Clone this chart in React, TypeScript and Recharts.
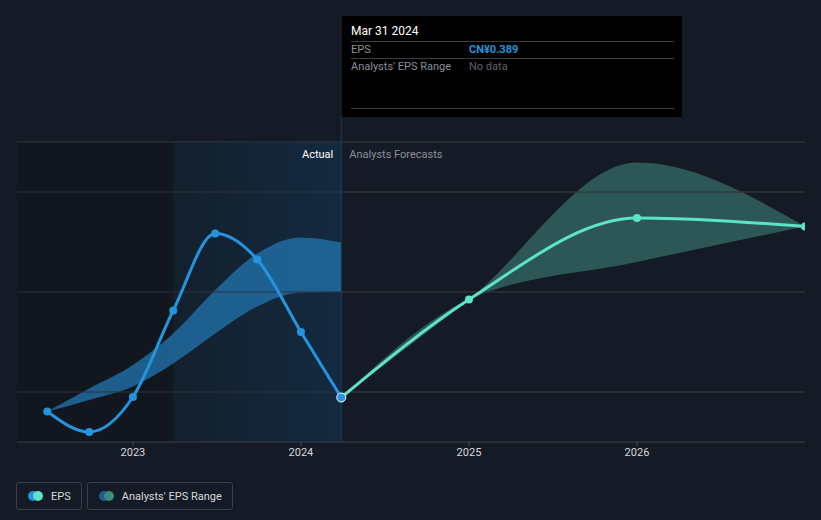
import {
  Area,
  CartesianGrid,
  ComposedChart,
  Line,
  ReferenceArea,
  ReferenceLine,
  XAxis,
  YAxis,
} from "recharts";

// actual quarterly EPS (decimal year)
const actualDates = [2022.49, 2022.74, 2023.0, 2023.24, 2023.49, 2023.74, 2024.0, 2024.24];
const actualEps = [0.361, 0.32, 0.39, 0.563, 0.717, 0.665, 0.52, 0.389];
const pastRangeLow = [0.361, 0.384, 0.411, 0.457, 0.517, 0.571, 0.599, 0.6];
const pastRangeHigh = [0.361, 0.407, 0.454, 0.517, 0.604, 0.677, 0.709, 0.699];

// analyst forecasts
const forecastDates = [2024.24, 2025.0, 2026.0, 2027.0];
const forecastEps = [0.389, 0.585, 0.748, 0.731];
const forecastLow = [0.389, 0.585, 0.66, 0.731];
const forecastHigh = [0.389, 0.585, 0.859, 0.731];

const yearTicks = [2023, 2024, 2025, 2026];
const yTicks = [0.3, 0.4, 0.6, 0.8, 0.9];
const yLabelTicks = [0.3, 0.9];
const splitDate = 2024.24;
const shadeStart = 2023.24;
const xDomain = [2022.31, 2027.0];

const COLORS = {
  bg: "#151b26",
  grid: "#2c323d",
  past: "#2394df",
  future: "#5de4c7",
  pastBand: "#2070a8",
  futureBand: "#2d5656",
  text: "#d6d9de",
  muted: "#8a8f98",
};

type Row = {
  t: number;
  eps?: number;
  pastRange?: [number, number];
  fc?: number;
  fcRange?: [number, number];
};

const rows: Row[] = [];
actualDates.forEach((t, i) => {
  rows.push({ t, eps: actualEps[i], pastRange: [pastRangeLow[i], pastRangeHigh[i]] });
});
forecastDates.forEach((t, i) => {
  const existing = rows.find((r) => r.t === t);
  const extra = { fc: forecastEps[i], fcRange: [forecastLow[i], forecastHigh[i]] as [number, number] };
  if (existing) Object.assign(existing, extra);
  else rows.push({ t, ...extra });
});

const FONT = "Roboto, 'Noto Sans', sans-serif";

function YTick(props: any) {
  const { x, y, payload } = props;
  if (!yLabelTicks.includes(payload.value)) return null;
  return (
    <text x={x + 8} y={y - 8} fill={COLORS.text} fontSize={11} fontFamily={FONT}>
      {`CN¥${payload.value}`}
    </text>
  );
}

function SplitLabel(props: any) {
  const vb = props.viewBox || {};
  const x = vb.x ?? 0;
  const y = vb.y ?? 0;
  return (
    <g>
      <line x1={x} x2={x} y1={y} y2={y - 26} stroke="#1d3b57" strokeWidth={1} />
      <text x={x - 8} y={y + 16} textAnchor="end" fill="#ffffff" fontSize={11} fontFamily={FONT}>
        Actual
      </text>
      <text x={x + 8} y={y + 16} fill={COLORS.muted} fontSize={11} fontFamily={FONT}>
        Analysts Forecasts
      </text>
    </g>
  );
}

function EpsDot(props: any) {
  const { cx, cy, payload } = props;
  if (cx == null || cy == null) return null;
  const last = payload.t === splitDate;
  return (
    <circle
      key={`d-${payload.t}`}
      cx={cx}
      cy={cy}
      r={last ? 4.5 : 4}
      fill={COLORS.past}
      stroke={last ? "#ffffff" : "none"}
      strokeWidth={last ? 1 : 0}
    />
  );
}

function LegendItem({ a, b, label }: { a: string; b: string; label: string }) {
  return (
    <div
      style={{
        display: "flex",
        alignItems: "center",
        height: 26,
        padding: "0 10px 0 11px",
        border: "1px solid #3a404b",
        borderRadius: 3,
        color: COLORS.text,
        fontSize: 11,
        marginRight: 5,
      }}
    >
      <span style={{ position: "relative", width: 15, height: 10, marginRight: 8 }}>
        <span style={{ position: "absolute", left: 0, width: 10, height: 10, borderRadius: 5, background: a }} />
        <span style={{ position: "absolute", left: 5, width: 10, height: 10, borderRadius: 5, background: b }} />
      </span>
      {label}
    </div>
  );
}

export default function App() {
  return (
    <div
      style={{
        position: "absolute",
        left: 0,
        top: 0,
        width: 821,
        height: 520,
        background: COLORS.bg,
        fontFamily: FONT,
        overflow: "hidden",
      }}
    >
      <ComposedChart
        width={821}
        height={480}
        data={rows}
        margin={{ top: 142, right: 16, bottom: 8, left: 17 }}
      >
        <defs>
          <linearGradient id="pastShade" x1="0" y1="0" x2="1" y2="0">
            <stop offset="0%" stopColor="#13202d" />
            <stop offset="100%" stopColor="#142a40" />
          </linearGradient>
        </defs>
        <ReferenceArea x1={xDomain[0]} x2={shadeStart} fill="#12161e" fillOpacity={1} ifOverflow="hidden" />
        <ReferenceArea x1={shadeStart} x2={splitDate} fill="url(#pastShade)" fillOpacity={1} ifOverflow="hidden" />
        <CartesianGrid stroke={COLORS.grid} vertical={false} />
        {yTicks.map((v) => (
          <ReferenceLine key={`g-${v}`} y={v} stroke={COLORS.grid} strokeWidth={1} />
        ))}
        <XAxis
          dataKey="t"
          type="number"
          domain={xDomain}
          ticks={yearTicks}
          allowDataOverflow
          height={30}
          tick={{ fill: COLORS.text, fontSize: 11, fontFamily: FONT }}
          tickLine={{ stroke: "#4a505a" }}
          tickSize={4}
          axisLine={{ stroke: COLORS.grid }}
        />
        <YAxis
          type="number"
          domain={[0.3, 0.9]}
          ticks={yTicks}
          width={0}
          axisLine={false}
          tickLine={false}
          tick={<YTick />}
          interval={0}
        />
        <ReferenceLine x={splitDate} stroke="#1d3b57" strokeWidth={1} label={<SplitLabel />} />
        <Area
          dataKey="pastRange"
          type="monotone"
          stroke="none"
          fill={COLORS.pastBand}
          fillOpacity={0.8}
          isAnimationActive={false}
          activeDot={false}
        />
        <Area
          dataKey="fcRange"
          type="monotone"
          stroke="none"
          fill={COLORS.futureBand}
          fillOpacity={1}
          isAnimationActive={false}
          activeDot={false}
          connectNulls
        />
        <Line
          dataKey="fc"
          type="monotone"
          stroke={COLORS.future}
          strokeWidth={3}
          dot={{ r: 4, fill: COLORS.future, stroke: "none" }}
          isAnimationActive={false}
          connectNulls
        />
        <Line
          dataKey="eps"
          type="monotone"
          stroke={COLORS.past}
          strokeWidth={3}
          dot={<EpsDot />}
          isAnimationActive={false}
        />
      </ComposedChart>

      <div
        style={{
          position: "absolute",
          left: 342,
          top: 16,
          width: 340,
          height: 101,
          background: "#000000",
          boxSizing: "border-box",
          padding: "6px 8px 0 9px",
          fontSize: 11,
        }}
      >
        <div style={{ color: "#ffffff", fontSize: 12, height: 19, lineHeight: "19px" }}>Mar 31 2024</div>
        <div style={{ borderTop: "1px solid #3a3d42", display: "flex", height: 16, lineHeight: "16px" }}>
          <span style={{ color: COLORS.muted, width: 118 }}>EPS</span>
          <span style={{ color: COLORS.past, fontWeight: 700 }}>CN¥0.389</span>
        </div>
        <div style={{ borderTop: "1px solid #3a3d42", display: "flex", height: 16, lineHeight: "16px" }}>
          <span style={{ color: COLORS.muted, width: 118 }}>Analysts' EPS Range</span>
          <span style={{ color: "#5f636a" }}>No data</span>
        </div>
        <div style={{ borderTop: "1px solid #3a3d42", marginTop: 33 }} />
      </div>

      <div style={{ position: "absolute", left: 16, top: 482, display: "flex" }}>
        <LegendItem a={COLORS.past} b={COLORS.future} label="EPS" />
        <LegendItem a="#1d5f8e" b="#3f8a80" label="Analysts' EPS Range" />
      </div>
    </div>
  );
}
